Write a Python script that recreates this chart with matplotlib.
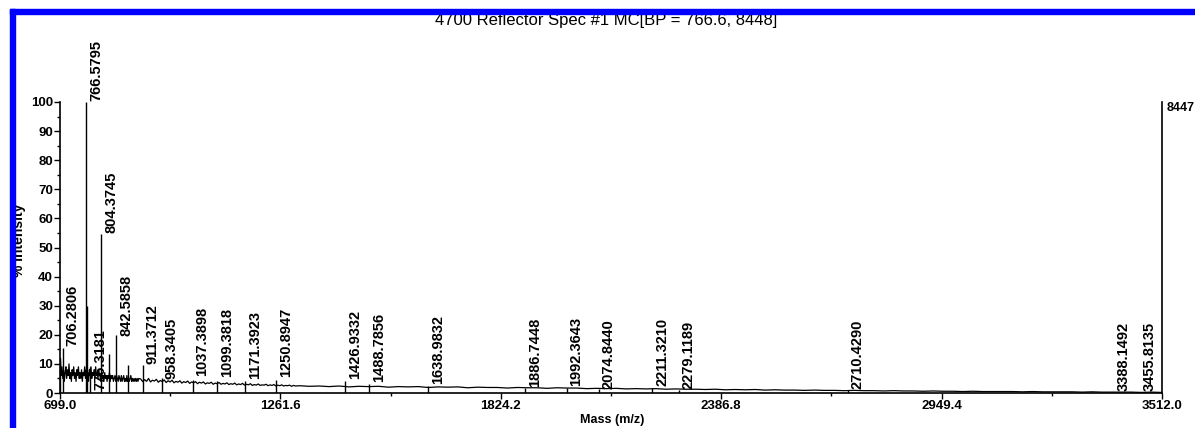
import numpy as np
import matplotlib
matplotlib.use('Agg')
import matplotlib.pyplot as plt
from matplotlib.patches import Rectangle

plt.rcParams['font.family'] = ['Liberation Sans', 'DejaVu Sans']

# noisy baseline (% intensity)
seg1 = [12, 6, 9, 5, 8, 4, 7, 9, 5, 8,
        6, 10, 5, 7, 4, 8, 6, 9, 5, 7,
        4, 8, 6, 9, 5, 7, 5, 8, 4, 7,
        6, 9, 5, 8, 6, 7, 4, 8, 6, 9,
        5, 7, 6, 8, 5, 9, 6, 7, 5, 8, 6]
seg2 = [6, 4, 7, 5, 6, 4, 7, 5, 6, 4,
        6, 5, 7, 4, 6, 5, 6, 4, 5, 6,
        4, 6, 5, 4, 6, 5, 4, 6, 4, 5,
        6, 4, 5, 4, 6, 4, 5, 4, 5, 6,
        4, 5, 4, 5, 4, 5, 4, 5, 4, 5]
seg3 = [4.8, 3.9, 4.6, 4.0, 5.0, 3.8, 4.4, 4.1, 4.7, 3.7,
        4.3, 3.9, 4.5, 3.6, 4.2, 3.8, 4.4, 3.5, 4.0, 3.7,
        4.2, 3.4, 3.9, 3.6, 4.1, 3.3, 3.8, 3.5, 3.9, 3.2,
        3.7, 3.4, 3.8, 3.1, 3.5, 3.3, 3.7, 3.0, 3.4, 3.2,
        3.6, 3.0, 3.3, 3.1, 3.5, 2.9, 3.2, 3.0, 3.4, 2.8,
        3.1, 2.9, 3.3, 2.7, 3.0, 2.8, 3.2, 2.6, 2.9, 2.7,
        3.1, 2.6, 2.8, 2.7, 3.0, 2.5, 2.8, 2.6, 2.9, 2.4,
        2.7, 2.5, 2.8, 2.4, 2.6, 2.5, 2.7, 2.3, 2.6, 2.4]
seg4 = [2.5, 2.3, 2.4, 2.2, 2.4, 2.1, 2.3, 2.2, 2.3, 2.0,
        2.2, 2.1, 2.2, 1.9, 2.1, 2.0, 2.1, 1.8, 2.0, 1.9,
        1.9, 1.7, 1.9, 1.8, 1.8, 1.6, 1.8, 1.7, 1.7, 1.5,
        1.6, 1.5, 1.6, 1.4, 1.5, 1.4, 1.5, 1.3, 1.4, 1.3,
        1.3, 1.2, 1.3, 1.1, 1.2, 1.1, 1.2, 1.0, 1.1, 1.0,
        1.0, 0.9, 1.0, 0.9, 0.9, 0.8, 0.9, 0.8, 0.8, 0.7,
        0.8, 0.7, 0.7, 0.6, 0.7, 0.6, 0.6, 0.5, 0.6, 0.5,
        0.5, 0.5, 0.5, 0.4, 0.5, 0.4, 0.4, 0.4, 0.4, 0.3,
        0.4, 0.3, 0.3, 0.3, 0.3, 0.2, 0.3, 0.2]

base_mz = np.concatenate([np.linspace(700, 800, len(seg1)),
                          np.linspace(801, 900, len(seg2)),
                          np.linspace(905, 1300, len(seg3)),
                          np.linspace(1310, 3510, len(seg4))])
base_int = np.concatenate([seg1, seg2, seg3, seg4])

# peak sticks
peak_mz = [699.6, 706.2806, 766.5795, 767.58, 776.3181, 804.3745, 824.0, 842.5858,
           872.0, 911.3712, 958.3405, 1037.3898, 1099.3818, 1171.3923, 1250.8947,
           1426.9332, 1488.7856, 1638.9832, 1886.7448, 1992.3643, 2074.8440,
           2211.3210, 2279.1189, 2710.4290, 3388.1492, 3455.8135]
peak_int = [12, 15.5, 100, 30, 9, 54.5, 13.5, 20, 9.5, 9.5, 5, 4.5, 4, 4, 4.5,
            4, 3, 2.5, 1.6, 1.8, 1.5, 1.6, 1.1, 1.1, 0.5, 0.5]

# labelled peaks and where their labels sit
label_mz = [706.2806, 766.5795, 776.3181, 804.3745, 842.5858, 911.3712, 958.3405,
            1037.3898, 1099.3818, 1171.3923, 1250.8947, 1426.9332, 1488.7856,
            1638.9832, 1886.7448, 1992.3643, 2074.8440, 2211.3210, 2279.1189,
            2710.4290, 3388.1492, 3455.8135]
label_y = [15.8, 100, 0.5, 54.5, 19, 9.6, 4.5, 5.5, 5, 4.5, 5, 4.5, 3.4, 2.7,
           1.7, 2, 1, 2, 1, 1, 0.3, 0.3]

xmin, xmax = 699.0, 3512.0
xticks = [699.0, 1261.6, 1824.2, 2386.8, 2949.4, 3512.0]

fig = plt.figure(figsize=(11.95, 4.28), dpi=100)
ax = fig.add_axes([60 / 1195, 35 / 428, 1102 / 1195, 291 / 428])

ax.plot(base_mz, base_int, color='black', lw=0.9)
ax.vlines(peak_mz, 0, peak_int, color='black', lw=1)

for m, y in zip(label_mz, label_y):
    ax.annotate('%.4f' % m, xy=(m, y), xytext=(2, 1), textcoords='offset points',
                rotation=90, ha='left', va='bottom', fontsize=10.5,
                fontweight='bold')

ax.set_xlim(xmin, xmax)
ax.set_ylim(0, 100)
ax.set_xticks(xticks)
ax.set_xticklabels(['%.1f' % t for t in xticks])
ax.set_xticks([(a + b) / 2 for a, b in zip(xticks[:-1], xticks[1:])], minor=True)
ax.set_yticks(range(0, 101, 10))
ax.set_yticks(range(5, 100, 10), minor=True)
ax.tick_params(which='major', length=4, width=1, labelsize=9.5, pad=1)
ax.tick_params(which='minor', length=2, width=1)
for lab in ax.get_xticklabels() + ax.get_yticklabels():
    lab.set_fontweight('bold')

ax.spines['top'].set_visible(False)
for s in ['left', 'bottom', 'right']:
    ax.spines[s].set_linewidth(1.2)

ax.annotate('8447', xy=(1, 1), xycoords='axes fraction', xytext=(3, 0),
            textcoords='offset points', ha='left', va='top', fontsize=9,
            fontweight='bold')

fig.text(606 / 1195, 1 - 25 / 428, '4700 Reflector Spec #1 MC[BP = 766.6, 8448]',
         ha='center', va='baseline', fontsize=12)
fig.text(19 / 1195, 1 - 240 / 428, '% Intensity', rotation=90, ha='center',
         va='center', fontsize=10, fontweight='bold')
fig.text(612 / 1195, 1 - 426 / 428, 'Mass (m/z)', ha='center', va='bottom',
         fontsize=9, fontweight='bold')

# blue frame on the left and top
fig.add_artist(Rectangle((10 / 1195, 0), 5 / 1195, 1 - 9 / 428,
                         transform=fig.transFigure, color='#0000ff', zorder=10))
fig.add_artist(Rectangle((10 / 1195, 1 - 14 / 428), 1 - 10 / 1195, 5 / 428,
                         transform=fig.transFigure, color='#0000ff', zorder=10))

fig.savefig('out.png', dpi=100)
